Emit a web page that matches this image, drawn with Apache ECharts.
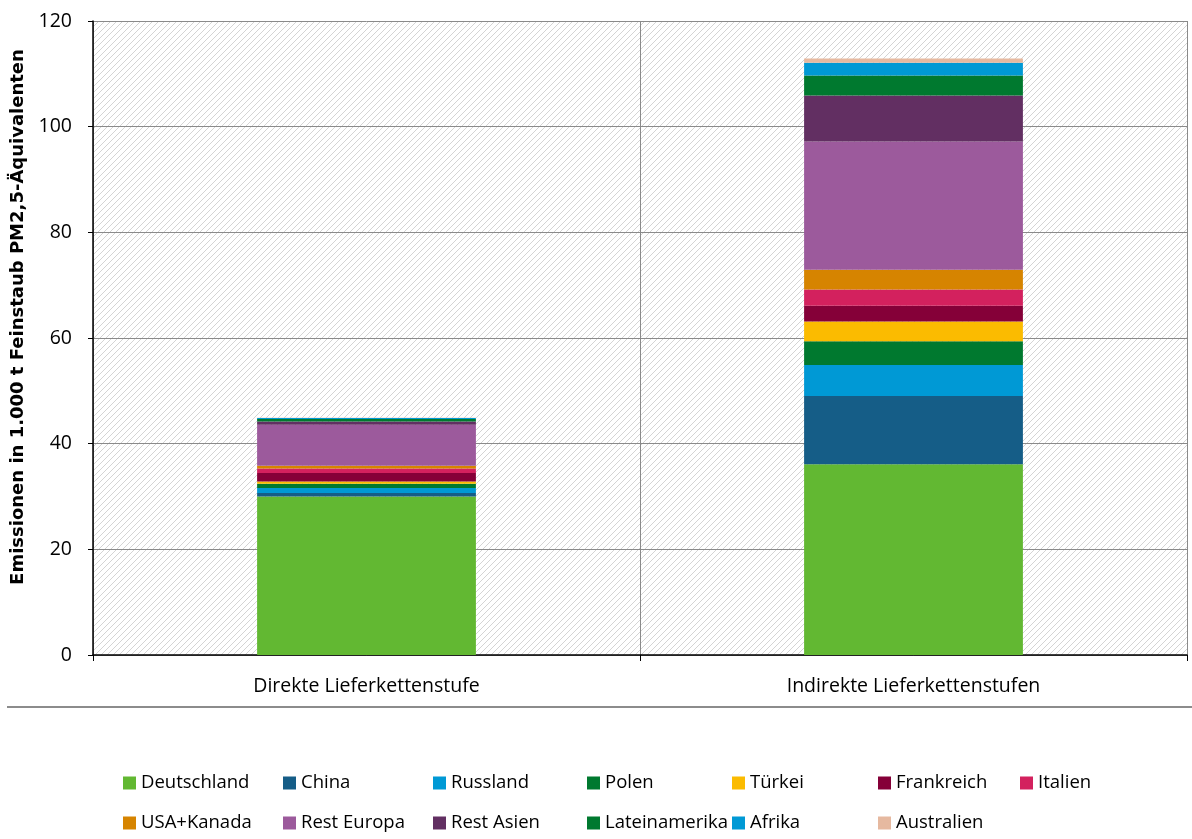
<!DOCTYPE html>
<html>
<head>
<meta charset="utf-8">
<script src="https://cdn.jsdelivr.net/npm/echarts@6/dist/echarts.min.js"></script>
<style>
html,body{margin:0;padding:0;background:#fff;}
#chart{width:1192px;height:839px;}
</style>
</head>
<body>
<div id="chart"></div>
<script>
const categories = ['Direkte Lieferkettenstufe', 'Indirekte Lieferkettenstufen'];
const seriesNames = ['Deutschland','China','Russland','Polen','Türkei','Frankreich','Italien','USA+Kanada','Rest Europa','Rest Asien','Lateinamerika','Afrika','Australien'];
const deutschland   = [30.0, 36.1];
const china         = [0.65, 12.9];
const russland      = [0.95, 5.9];
const polen         = [0.8, 4.5];
const tuerkei       = [0.45, 3.7];
const frankreich    = [1.6, 3.0];
const italien       = [0.87, 3.1];
const usaKanada     = [0.5, 3.7];
const restEuropa    = [7.75, 24.3];
const restAsien     = [0.63, 8.7];
const lateinamerika = [0.45, 3.8];
const afrika        = [0.2, 2.4];
const australien    = [0.05, 0.8];
const yTicks = [0, 20, 40, 60, 80, 100, 120];

const seriesData = [deutschland, china, russland, polen, tuerkei, frankreich, italien, usaKanada, restEuropa, restAsien, lateinamerika, afrika, australien];
const colors = ['#62b832','#155d87','#0099d5','#00792f','#fbbb00','#850038','#d3215e','#d68400','#9c5a9c','#622f62','#00792f','#0099d5','#e6b9a0'];

// hatch pattern
const pc = document.createElement('canvas');
pc.width = 6; pc.height = 6;
const ctx = pc.getContext('2d');
ctx.fillStyle = '#ffffff';
ctx.fillRect(0,0,6,6);
ctx.strokeStyle = '#d4d4d4';
ctx.lineWidth = 1;
ctx.beginPath();
ctx.moveTo(0,6); ctx.lineTo(6,0);
ctx.moveTo(-1,1); ctx.lineTo(1,-1);
ctx.moveTo(5,7); ctx.lineTo(7,5);
ctx.stroke();

const FONT = '"Open Sans", Lato, sans-serif';

const legendCols = [
  ['Deutschland','USA+Kanada'],
  ['China','Rest Europa'],
  ['Russland','Rest Asien'],
  ['Polen','Lateinamerika'],
  ['Türkei','Afrika'],
  ['Frankreich','Australien'],
  ['Italien']
];
const legendLefts = [123, 283, 433, 587, 732, 878, 1020];

const chart = echarts.init(document.getElementById('chart'));
chart.setOption({
  backgroundColor: '#ffffff',
  animation: false,
  grid: {
    left: 93, right: 5, top: 21, bottom: 184,
    outerBoundsMode: 'none',
    containLabel: false,
    show: true,
    backgroundColor: {image: pc, repeat: 'repeat'},
    borderWidth: 0
  },
  legend: legendCols.map((col, i) => ({
    data: col,
    orient: 'vertical',
    left: legendLefts[i],
    top: 773,
    padding: 0,
    itemGap: 20,
    itemWidth: 13,
    itemHeight: 13,
    icon: 'rect',
    selectedMode: false,
    textStyle: {fontFamily: FONT, fontSize: 18.5, color: '#000', lineHeight: 20}
  })),
  xAxis: {
    type: 'category',
    data: categories,
    boundaryGap: true,
    axisLine: {lineStyle: {color: '#000', width: 1.5}},
    axisTick: {show: true, length: 6, lineStyle: {color: '#000'}},
    axisLabel: {fontFamily: FONT, fontSize: 19.5, color: '#000', margin: 21},
    splitLine: {show: true, lineStyle: {color: '#8a8a8a', width: 1}}
  },
  yAxis: {
    type: 'value',
    min: 0, max: 120, interval: 20,
    name: 'Emissionen in 1.000 t Feinstaub PM2,5-Äquivalenten',
    nameLocation: 'middle',
    nameRotate: 90,
    nameGap: 61,
    nameTextStyle: {fontFamily: '"DejaVu Sans", sans-serif', fontSize: 18, fontWeight: 'bold', color: '#000', padding: [0, 0, 0, 42]},
    axisLine: {show: true, lineStyle: {color: '#000', width: 1.5}},
    axisTick: {show: true, length: 5, lineStyle: {color: '#000'}},
    axisLabel: {fontFamily: FONT, fontSize: 19.5, color: '#000', margin: 21,
      formatter: v => yTicks.includes(v) ? String(v) : ''},
    splitLine: {show: true, lineStyle: {color: '#8a8a8a', width: 1}}
  },
  series: seriesNames.map((name, i) => ({
    name: name,
    type: 'bar',
    stack: 'total',
    barWidth: '40%',
    data: seriesData[i],
    itemStyle: {color: colors[i]}
  })),
  graphic: [{
    type: 'line',
    shape: {x1: 7, y1: 707, x2: 1192, y2: 707},
    style: {stroke: '#8c8c8c', lineWidth: 2}
  }]
});
</script>
</body>
</html>
